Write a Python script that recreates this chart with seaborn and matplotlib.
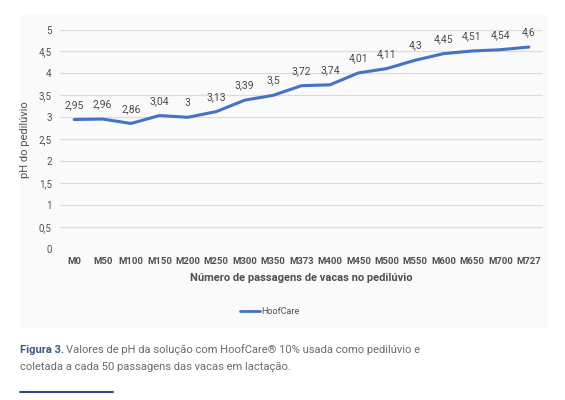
import matplotlib
matplotlib.use("Agg")
import matplotlib.pyplot as plt
import seaborn as sns
import pandas as pd
from matplotlib.patches import Rectangle
from matplotlib.lines import Line2D

categories = ["M0", "M50", "M100", "M150", "M200", "M250", "M300", "M350", "M373",
              "M400", "M450", "M500", "M550", "M600", "M650", "M700", "M727"]
ph_values = [2.95, 2.96, 2.86, 3.04, 3.00, 3.13, 3.39, 3.50, 3.72,
             3.74, 4.01, 4.11, 4.30, 4.45, 4.51, 4.54, 4.60]
y_ticks = [0, 0.5, 1, 1.5, 2, 2.5, 3, 3.5, 4, 4.5, 5]
series_name = "HoofCare"

def fmt(v):
    s = ("%.2f" % v).rstrip("0").rstrip(".")
    return s.replace(".", ",")

sns.set_theme(style="white")
plt.rcParams['font.family'] = ['Roboto', 'DejaVu Sans']

df = pd.DataFrame({"cat": categories, "ph": ph_values, "idx": range(len(categories))})

fig = plt.figure(figsize=(5.65, 4.0), dpi=100)
bg = Rectangle((20/565, 1-328/400), (548-20)/565, (328-15)/400,
               transform=fig.transFigure, facecolor="#fafafa",
               edgecolor="none", zorder=-5)
fig.add_artist(bg)
ax = fig.add_axes([60/565, 1-249/400, (543-60)/565, (249-29.5)/400])
ax.set_zorder(2)
ax.set_facecolor("none")

sns.lineplot(data=df, x="idx", y="ph", ax=ax, color="#4472C4", linewidth=2.2,
             legend=False)

for i, v in enumerate(ph_values):
    ax.annotate(fmt(v), (i, v), xytext=(0, 7), textcoords="offset points",
                ha="center", va="bottom", fontsize=7.5, color="#4a4a4a")

ax.set_xlim(-0.5, len(categories) - 0.5)
ax.set_ylim(0, 5)
ax.set_yticks(y_ticks)
ax.set_yticklabels([fmt(t) for t in y_ticks], fontsize=7, color="#505050")
ax.set_xticks(range(len(categories)))
ax.set_xticklabels(categories, fontsize=6.8, color="#505050", fontweight="bold")
ax.tick_params(axis="both", length=0, pad=6)
ax.grid(axis="y", color="#dcdcdc", linewidth=0.9)
ax.set_axisbelow(True)
for s in ax.spines.values():
    s.set_visible(False)
ax.set_xlabel("Número de passagens de vacas no pedilúvio", fontsize=8,
              color="#505050", fontweight="bold", labelpad=5)
ax.set_ylabel("pH do pedilúvio", fontsize=8, color="#505050", labelpad=6)

handle = Line2D([], [], color="#4472C4", linewidth=2)
leg = fig.legend([handle], [series_name], loc="center", bbox_to_anchor=(270/565, 1-312/400),
                 frameon=False, fontsize=6.5, handlelength=2.2, handletextpad=0.2,
                 labelcolor="#505050")
leg.set_zorder(3)

fig.text(20/565, 1-350/400, "Figura 3.", fontsize=8, color="#3d5a80",
         fontweight="bold", va="center")
fig.text(66/565, 1-350/400, "Valores de pH da solução com HoofCare® 10% usada como pedilúvio e",
         fontsize=8, color="#6a6a6a", va="center")
fig.text(20/565, 1-367/400, "coletada a cada 50 passagens das vacas em lactação.",
         fontsize=8, color="#6a6a6a", va="center")
fig.add_artist(Line2D([20/565, 113/565], [1-392/400, 1-392/400],
                      transform=fig.transFigure, color="#2b4d8c", linewidth=1.5))

fig.savefig("out.png", dpi=100, facecolor="white")
